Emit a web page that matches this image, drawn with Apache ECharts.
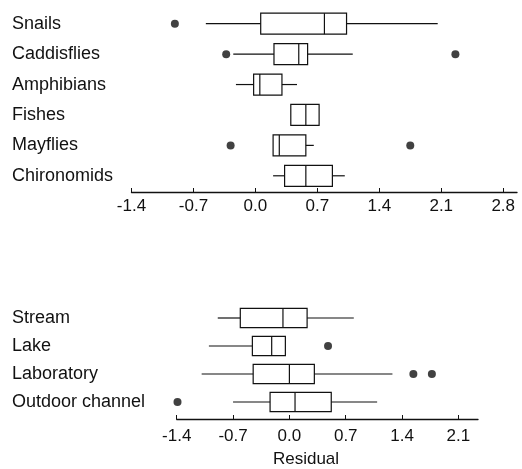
<!DOCTYPE html>
<html>
<head>
<meta charset="utf-8">
<script src="https://cdn.jsdelivr.net/npm/echarts@6/dist/echarts.min.js"></script>
<style>
html,body{margin:0;padding:0;background:#fff;}
#chart{width:522px;height:469px;}
</style>
</head>
<body>
<div id="chart"></div>
<script>
// ---- data ----
const taxa = ['Snails', 'Caddisflies', 'Amphibians', 'Fishes', 'Mayflies', 'Chironomids'];
// [lower whisker, Q1, median, Q3, upper whisker]
const snails      = [-0.56, 0.06, 0.78, 1.03, 2.06];
const caddisflies = [-0.25, 0.21, 0.49, 0.59, 1.10];
const amphibians  = [-0.22, -0.02, 0.05, 0.30, 0.47];
const fishes      = [0.40, 0.40, 0.57, 0.72, 0.72];
const mayflies    = [0.20, 0.20, 0.27, 0.57, 0.66];
const chironomids = [0.20, 0.33, 0.57, 0.87, 1.01];
const taxaOutliers = [['Snails', -0.91], ['Caddisflies', -0.33], ['Caddisflies', 2.26],
                      ['Mayflies', -0.28], ['Mayflies', 1.75]];

const habitats = ['Stream', 'Lake', 'Laboratory', 'Outdoor channel'];
const stream     = [-0.89, -0.61, -0.08, 0.22, 0.80];
const lake       = [-1.00, -0.46, -0.22, -0.05, -0.05];
const laboratory = [-1.09, -0.45, 0.00, 0.31, 1.28];
const outdoor    = [-0.70, -0.24, 0.07, 0.52, 1.09];
const habitatOutliers = [['Lake', 0.48], ['Laboratory', 1.54], ['Laboratory', 1.77],
                         ['Outdoor channel', -1.39]];

const topTicks = [-1.4, -0.7, 0.0, 0.7, 1.4, 2.1, 2.8];
const bottomTicks = [-1.4, -0.7, 0.0, 0.7, 1.4, 2.1];
const xTitle = 'Residual';

// ---- build ----
const taxaStats = [snails, caddisflies, amphibians, fishes, mayflies, chironomids];
const habitatStats = [stream, lake, laboratory, outdoor];
const INK = '#111';
const FONT = "'Liberation Sans', Arial, Helvetica, sans-serif";

function renderBox(params, api) {
  const cat = api.value(0);
  const lo = api.coord([api.value(1), cat]);
  const q1 = api.coord([api.value(2), cat]);
  const md = api.coord([api.value(3), cat]);
  const q3 = api.coord([api.value(4), cat]);
  const hi = api.coord([api.value(5), cat]);
  const h = Math.abs(api.size([0, 1])[1]) * 0.69;
  const y = q1[1];
  const style = {stroke: INK, lineWidth: 1.2, fill: 'none'};
  return {
    type: 'group',
    children: [
      {type: 'line', shape: {x1: lo[0], y1: y, x2: q1[0], y2: y}, style: style},
      {type: 'line', shape: {x1: q3[0], y1: y, x2: hi[0], y2: y}, style: style},
      {type: 'rect', shape: {x: q1[0], y: y - h / 2, width: q3[0] - q1[0], height: h}, style: style},
      {type: 'line', shape: {x1: md[0], y1: y - h / 2, x2: md[0], y2: y + h / 2}, style: style}
    ]
  };
}

function xAxisCfg(idx, min, max, ticks, offset, margin) {
  return {
    type: 'value', gridIndex: idx, min: min, max: max, offset: offset,
    splitLine: {show: false},
    axisLine: {show: true, lineStyle: {color: INK, width: 1.3}},
    axisTick: {show: true, inside: true, length: 4, customValues: ticks,
               lineStyle: {color: INK, width: 1}},
    axisLabel: {show: true, customValues: ticks, margin: margin,
                color: INK, fontSize: 17, fontFamily: FONT,
                formatter: function (v) { return Number(v).toFixed(1); }}
  };
}

function yAxisCfg(idx, cats, margin) {
  return {
    type: 'category', gridIndex: idx, data: cats, inverse: true,
    axisLine: {show: false}, axisTick: {show: false}, splitLine: {show: false},
    axisLabel: {show: true, align: 'left', margin: margin, color: INK,
                fontSize: 18, fontFamily: FONT}
  };
}

const chart = echarts.init(document.getElementById('chart'), null, {renderer: 'canvas'});
chart.setOption({
  backgroundColor: '#fff',
  animation: false,
  grid: [
    {left: 131.5, right: 5, top: 8.5, height: 182.5},
    {left: 176.7, right: 44, top: 304, height: 112}
  ],
  xAxis: [
    xAxisCfg(0, -1.4, 2.956, topTicks, 1, 6),
    xAxisCfg(1, -1.4, 2.343, bottomTicks, 3, 9)
  ],
  yAxis: [
    yAxisCfg(0, taxa, 119.5),
    yAxisCfg(1, habitats, 164.7)
  ],
  graphic: [{
    type: 'text', x: 306, y: 459,
    style: {text: xTitle, fill: INK, fontSize: 17, fontFamily: FONT,
            align: 'center', verticalAlign: 'middle'}
  }],
  series: [
    {
      type: 'custom', xAxisIndex: 0, yAxisIndex: 0,
      renderItem: renderBox,
      encode: {x: [1, 2, 3, 4, 5], y: 0},
      data: taxa.map(function (n, i) { return [i].concat(taxaStats[i]); })
    },
    {
      type: 'scatter', xAxisIndex: 0, yAxisIndex: 0, symbolSize: 8,
      itemStyle: {color: INK},
      data: taxaOutliers.map(function (d) { return [d[1], taxa.indexOf(d[0])]; })
    },
    {
      type: 'custom', xAxisIndex: 1, yAxisIndex: 1,
      renderItem: renderBox,
      encode: {x: [1, 2, 3, 4, 5], y: 0},
      data: habitats.map(function (n, i) { return [i].concat(habitatStats[i]); })
    },
    {
      type: 'scatter', xAxisIndex: 1, yAxisIndex: 1, symbolSize: 8,
      itemStyle: {color: INK},
      data: habitatOutliers.map(function (d) { return [d[1], habitats.indexOf(d[0])]; })
    }
  ]
});
</script>
</body>
</html>
